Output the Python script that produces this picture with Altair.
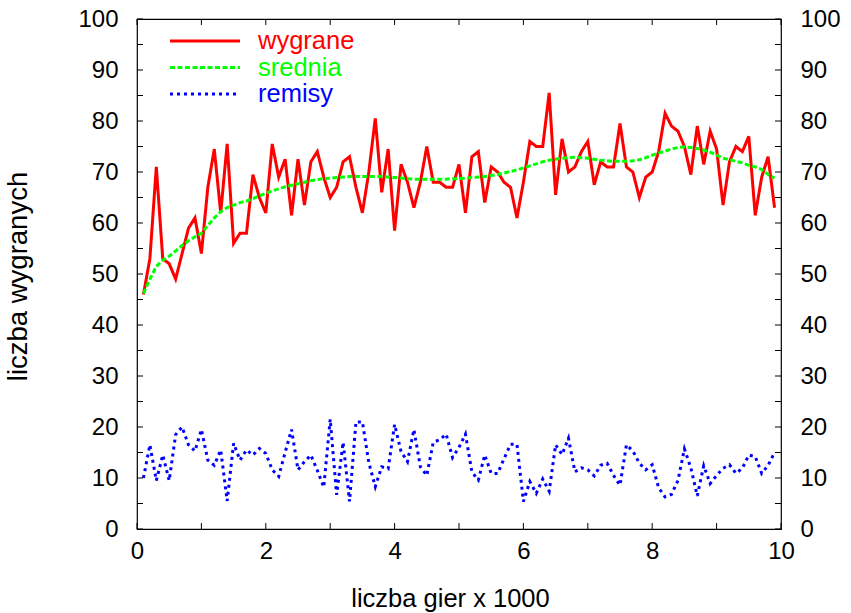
import altair as alt
import pandas as pd

# ---------------- data ----------------
games = [k / 10 for k in range(1, 100)]  # liczba gier x 1000 (co 100 gier)

wygrane = [46, 53, 71, 53, 52, 49, 54, 59, 61, 54,
           67, 74.5, 62, 75.5, 56, 58, 58, 69.5, 65, 62,
           75.5, 69, 72.5, 61.5, 72.5, 63.5, 72, 74, 69, 65,
           67, 72, 73, 67, 62, 70, 80.5, 66, 74.5, 58.5,
           71.5, 68, 63, 68, 75, 68, 68, 67, 67, 71.5,
           62, 73, 74, 64, 71, 70, 68, 67, 61, 68,
           76, 75, 75, 85.5, 65.5, 76.5, 70, 71, 74, 76,
           67.5, 72, 71, 71, 79.5, 71, 70, 65, 69, 70,
           74, 81.5, 79, 78, 75, 69.5, 79, 71.5, 78, 74.5,
           63.5, 72, 75, 74, 77, 61.5, 69, 73, 63]

srednia = [46.2, 49, 51.5, 52.7, 53.5, 54.5, 55.6, 56.5, 57.3, 58,
           59.5, 61, 62.2, 63, 63.5, 64, 64.3, 64.8, 65.3, 65.8,
           66.3, 66.7, 67.1, 67.4, 67.7, 68, 68.3, 68.5, 68.7, 68.8,
           68.9, 69, 69.1, 69.1, 69.1, 69.1, 69.1, 69.1, 69, 68.9,
           68.8, 68.7, 68.6, 68.6, 68.6, 68.6, 68.6, 68.6, 68.7, 68.7,
           68.8, 68.9, 69, 69.1, 69.3, 69.5, 69.8, 70.1, 70.4, 70.8,
           71.2, 71.6, 72, 72.3, 72.5, 72.7, 72.8, 72.9, 72.8, 72.7,
           72.5, 72.3, 72.2, 72.1, 72.1, 72.1, 72.2, 72.4, 72.8, 73.3,
           73.7, 74.1, 74.5, 74.8, 74.9, 74.8, 74.6, 74.3, 73.9, 73.3,
           72.7, 72.4, 72.1, 71.8, 71.3, 71, 70.5, 69.5, 68.8]

remisy = [10, 16.5, 9.5, 14.5, 9.5, 18.5, 20, 16.5, 15.3, 19.5,
          13.5, 12.5, 15.5, 5.5, 16.8, 13.5, 15.5, 14.5, 15.8, 14.8,
          11.6, 10.3, 15, 19.5, 11.6, 13.2, 14.5, 11.5, 8.2, 21.5,
          6.7, 17, 5.4, 21, 21, 13, 8.3, 12.2, 11.8, 20.5,
          15.2, 13.2, 19.5, 12.2, 10.5, 17, 17.5, 18.6, 14, 16,
          18.6, 11.2, 9.6, 14.5, 10.9, 10.9, 13.8, 16.6, 16.6, 5.4,
          9.3, 7, 9.8, 7.4, 16.5, 14.6, 17.8, 11.2, 12, 11.6,
          10.4, 12.5, 12.9, 10.5, 8.6, 16.5, 15.3, 12.9, 11.6, 12.6,
          8.1, 6.3, 6.8, 9.5, 15.7, 12, 6.5, 12.4, 8.9, 10.5,
          11.9, 12.6, 10.9, 11.9, 14.5, 14.2, 10.9, 12.5, 15]

y_labels = [0, 10, 20, 30, 40, 50, 60, 70, 80, 90, 100]
y_tick_marks = [0, 5, 10, 15, 20, 25, 30, 35, 40, 45, 50, 55, 60, 65, 70, 75, 80, 85, 90, 95, 100]
x_labels = [0, 2, 4, 6, 8, 10]
x_tick_marks = [0, 1, 2, 3, 4, 5, 6, 7, 8, 9, 10]

legend_names = ["wygrane", "srednia", "remisy"]
legend_colors = ["#ff0000", "#00ff00", "#0000ff"]

# ---------------- chart ----------------
W, H = 644, 510
FONT = "Liberation Sans"
FS = 24        # tick labels
FS_X = 25.5    # x title
FS_Y = 27.5    # y title
FS_LEG = 25.5  # legend text
TL = 6         # inward tick length

df = pd.DataFrame({"x": games, "wygrane": wygrane, "srednia": srednia, "remisy": remisy})
yt = pd.DataFrame({"v": y_tick_marks})
xt = pd.DataFrame({"v": x_tick_marks})

xs = alt.Scale(domain=[0, 10], nice=False, zero=False)
ys = alt.Scale(domain=[0, 100], nice=False, zero=False)

x_axis = alt.Axis(values=x_labels, title="liczba gier x 1000", ticks=False, tickSize=0,
                  domain=False, grid=False, labelPadding=10, labelFont=FONT,
                  labelFontSize=FS, labelColor="black", labelFlush=False, labelOverlap=False,
                  titleFont=FONT, titleFontSize=FS_X, titleFontWeight="normal", titleColor="black",
                  titleX=W / 2 - 9, titleY=69, titleBaseline="middle", titleAlign="center")

y_left = alt.Axis(values=y_labels, title="liczba wygranych", orient="left", ticks=False,
                  tickSize=0, domain=False, grid=False, labelPadding=19, labelFont=FONT,
                  labelFontSize=FS, labelColor="black", labelFlush=False, labelOverlap=False,
                  titleFont=FONT, titleFontSize=FS_Y, titleFontWeight="normal", titleColor="black",
                  titleAngle=270, titleX=-119, titleY=H / 2 + 2, titleBaseline="middle",
                  titleAlign="center")

y_right = alt.Axis(values=y_labels, title="", orient="right", ticks=False, tickSize=0,
                   domain=False, grid=False, labelPadding=19, labelFont=FONT,
                   labelFontSize=FS, labelColor="black", labelFlush=False, labelOverlap=False)

base = alt.Chart(df)

red = base.mark_line(color="#ff0000", strokeWidth=3, strokeJoin="miter").encode(
    x=alt.X("x:Q", scale=xs, axis=x_axis),
    y=alt.Y("wygrane:Q", scale=ys, axis=y_left),
)
green = base.mark_line(color="#00ff00", strokeWidth=3, strokeDash=[5, 2.5]).encode(
    x=alt.X("x:Q", scale=xs, axis=None),
    y=alt.Y("srednia:Q", scale=ys, axis=None),
)
blue = base.mark_line(color="#0000ff", strokeWidth=3, strokeDash=[3, 4]).encode(
    x=alt.X("x:Q", scale=xs, axis=None),
    y=alt.Y("remisy:Q", scale=ys, axis=y_right),
)

tick_left = alt.Chart(yt).mark_rule(color="black", strokeWidth=1).encode(
    y=alt.Y("v:Q", scale=ys, axis=None), x=alt.value(0), x2=alt.value(TL))
tick_right = alt.Chart(yt).mark_rule(color="black", strokeWidth=1).encode(
    y=alt.Y("v:Q", scale=ys, axis=None), x=alt.value(W - TL), x2=alt.value(W))
tick_bottom = alt.Chart(xt).mark_rule(color="black", strokeWidth=1).encode(
    x=alt.X("v:Q", scale=xs, axis=None), y=alt.value(H - TL), y2=alt.value(H))
tick_top = alt.Chart(xt).mark_rule(color="black", strokeWidth=1).encode(
    x=alt.X("v:Q", scale=xs, axis=None), y=alt.value(0), y2=alt.value(TL))

legend_layers = []
dashes = [None, [5, 2.5], [3, 4]]
for k, (name, col) in enumerate(zip(legend_names, legend_colors)):
    ld = pd.DataFrame({"label": [name]})
    ypos = 22 + 26.5 * k
    rule_kwargs = dict(color=col, strokeWidth=3)
    if dashes[k] is not None:
        rule_kwargs["strokeDash"] = dashes[k]
    legend_layers.append(
        alt.Chart(ld).mark_rule(**rule_kwargs).encode(
            x=alt.value(33), x2=alt.value(103), y=alt.value(ypos)))
    legend_layers.append(
        alt.Chart(ld).mark_text(color=col, font=FONT, fontSize=FS_LEG, align="left",
                                baseline="middle").encode(
            x=alt.value(121), y=alt.value(ypos), text="label:N"))

chart = alt.layer(
    red, green, blue, tick_left, tick_right, tick_bottom, tick_top, *legend_layers
).resolve_scale(
    x="shared", y="shared"
).resolve_axis(
    x="independent", y="independent"
).properties(
    width=W, height=H,
    padding={"left": 137, "top": 19, "right": 70, "bottom": 84},
    autosize=alt.AutoSizeParams(type="none"),
    background="white",
).configure_view(
    stroke="black", strokeWidth=1.2
)

chart.save("out.html", embed_options={"renderer": "svg", "actions": False})
